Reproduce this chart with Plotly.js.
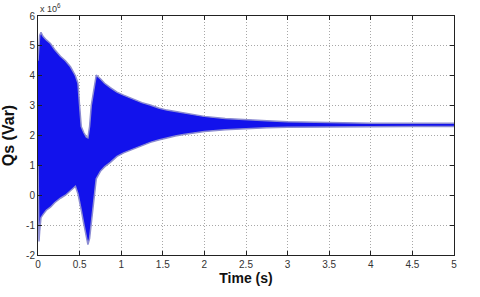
<!DOCTYPE html>
<html>
<head>
<meta charset="utf-8">
<script src="https://cdn.plot.ly/plotly-3.0.1.min.js"></script>
<style>html,body{margin:0;padding:0;background:#fff;}#chart{width:480px;height:297px;}</style>
</head>
<body>
<div id="chart"></div>
<script>
// Time samples (s) at which the envelope of Qs was read
const timeS = [0, 0.006, 0.012, 0.02, 0.036, 0.06, 0.1, 0.15, 0.2, 0.27,
  0.33, 0.39, 0.45, 0.48, 0.5, 0.52, 0.55, 0.58, 0.6, 0.62,
  0.64, 0.67, 0.7, 0.75, 0.8, 0.87, 0.95, 1.03, 1.15, 1.25,
  1.35, 1.45, 1.55, 1.65, 1.75, 1.85, 2.0, 2.25, 2.5, 2.75,
  3.0, 3.35, 3.7, 4.0, 4.5, 5.0];
// Upper envelope of the oscillation (x 10^6 Var)
const qsUpper = [4.5, 4.8, 5.1, 5.35, 5.45, 5.32, 5.2, 5.08, 4.88, 4.65,
  4.5, 4.3, 4.0, 3.75, 3.0, 2.3, 2.1, 1.95, 1.92, 2.3,
  3.0, 3.6, 4.02, 3.9, 3.75, 3.6, 3.45, 3.35, 3.2, 3.1,
  3.02, 2.92, 2.85, 2.8, 2.74, 2.7, 2.64, 2.57, 2.52, 2.49,
  2.46, 2.44, 2.42, 2.41, 2.41, 2.41];
// Lower envelope of the oscillation (x 10^6 Var)
const qsLower = [1.0, -1.0, -1.55, -1.2, -0.75, -0.65, -0.5, -0.4, -0.25, -0.1,
  0.0, 0.15, 0.3, 0.05, -0.2, -0.5, -0.95, -1.35, -1.65, -1.45,
  -0.9, -0.1, 0.55, 0.8, 0.95, 1.1, 1.3, 1.42, 1.55, 1.68,
  1.77, 1.85, 1.92, 1.98, 2.03, 2.07, 2.13, 2.19, 2.23, 2.26,
  2.28, 2.29, 2.3, 2.3, 2.3, 2.3];
const xTicks = [0, 0.5, 1, 1.5, 2, 2.5, 3, 3.5, 4, 4.5, 5];
const xTickLabels = ["0", "0.5", "1", "1.5", "2", "2.5", "3", "3.5", "4", "4.5", "5"];
const yTicks = [-2, -1, 0, 1, 2, 3, 4, 5, 6];
const yTickLabels = ["-2", "-1", "0", "1", "2", "3", "4", "5", "6"];

const edge = '#8c8cd2';
const traces = [
  {x: timeS, y: qsUpper, type: 'scatter', mode: 'lines',
   line: {color: edge, width: 1.5}, hoverinfo: 'skip', showlegend: false},
  {x: timeS, y: qsLower, type: 'scatter', mode: 'lines', fill: 'tonexty',
   fillcolor: '#1212ec', line: {color: edge, width: 1.5}, hoverinfo: 'skip', showlegend: false}
];

const font = 'Liberation Sans, Arial, sans-serif';
const axisCommon = {
  showline: true, linecolor: '#222', linewidth: 1, mirror: 'ticks',
  ticks: 'inside', ticklen: 4, tickcolor: '#222',
  showgrid: true, gridcolor: '#a8a8a8', gridwidth: 1, griddash: '1px,2px',
  zeroline: false, tickfont: {family: font, size: 10, color: '#333'},
  automargin: false, fixedrange: true
};
const layout = {
  width: 480, height: 297,
  margin: {l: 38, r: 26, t: 16, b: 42},
  paper_bgcolor: '#fff', plot_bgcolor: '#fff',
  xaxis: Object.assign({}, axisCommon, {
    range: [0, 5], tickmode: 'array', tickvals: xTicks, ticktext: xTickLabels,
    title: {text: '<b>Time (s)</b>', font: {family: font, size: 14, color: '#111'}, standoff: 4}
  }),
  yaxis: Object.assign({}, axisCommon, {
    range: [-2, 6], tickmode: 'array', tickvals: yTicks, ticktext: yTickLabels,
    title: {text: '<b>Qs (Var)</b>', font: {family: font, size: 16, color: '#111'}, standoff: 7}
  }),
  annotations: [{
    xref: 'paper', yref: 'paper', x: 0, y: 1, xanchor: 'left', yanchor: 'bottom',
    yshift: 0, text: 'x 10<sup>6</sup>', showarrow: false,
    font: {family: font, size: 9, color: '#333'}
  }]
};
Plotly.newPlot('chart', traces, layout, {staticPlot: true, displayModeBar: false});
</script>
</body>
</html>
